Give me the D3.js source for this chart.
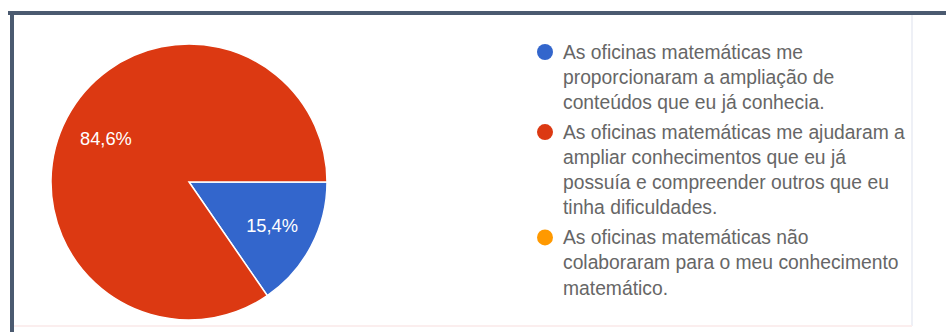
<!DOCTYPE html>
<html>
<head>
<meta charset="utf-8">
<script src="https://cdn.jsdelivr.net/npm/d3@7"></script>
<style>
  html, body { margin: 0; padding: 0; background: #ffffff; }
  svg { display: block; }
  text { font-family: "Liberation Sans", Arial, sans-serif; }
</style>
</head>
<body>
<svg id="chart" width="946" height="332"></svg>
<script>
// ---- data ----
const categories = [
  "As oficinas matemáticas me\nproporcionaram a ampliação de\nconteúdos que eu já conhecia.",
  "As oficinas matemáticas me ajudaram a\nampliar conhecimentos que eu já\npossuía e compreender outros que eu\ntinha dificuldades.",
  "As oficinas matemáticas não\ncolaboraram para o meu conhecimento\nmatemático."
];
const values = [15.4, 84.6, 0];
const colors = ["#3366cc", "#dc3912", "#ff9900"];
const valueLabels = ["15,4%", "84,6%", ""];

// ---- layout ----
const W = 946, H = 332;
const svg = d3.select("#chart");

// frame lines
svg.append("line").attr("x1", 912).attr("x2", 912).attr("y1", 14).attr("y2", 326)
  .attr("stroke", "#eef0f6").attr("stroke-width", 2);
svg.append("line").attr("x1", 12).attr("x2", 912).attr("y1", 326).attr("y2", 326)
  .attr("stroke", "#fbeeee").attr("stroke-width", 2);
svg.append("line").attr("x1", 8).attr("x2", W).attr("y1", 13).attr("y2", 13)
  .attr("stroke", "#4b5a70").attr("stroke-width", 4);
svg.append("line").attr("x1", 12).attr("x2", 12).attr("y1", 11).attr("y2", H)
  .attr("stroke", "#4b5a70").attr("stroke-width", 4);

// pie
const cx = 189, cy = 182, r = 138;
const pie = d3.pie().sort(null).value(d => d)
  .startAngle(Math.PI / 2).endAngle(Math.PI / 2 + 2 * Math.PI);
const arcs = pie(values);
const arc = d3.arc().innerRadius(0).outerRadius(r);
const labelArc = d3.arc().innerRadius(r * 0.68).outerRadius(r * 0.68);

const g = svg.append("g").attr("transform", `translate(${cx},${cy})`);
g.selectAll("path.slice").data(arcs).enter().append("path")
  .attr("class", "slice")
  .attr("d", arc)
  .attr("fill", (d, i) => colors[i])
  .attr("stroke", "#ffffff")
  .attr("stroke-width", d => d.value > 0 ? 1.5 : 0);

g.selectAll("text.lbl").data(arcs).enter().append("text")
  .attr("class", "lbl")
  .attr("transform", d => `translate(${labelArc.centroid(d)})`)
  .attr("text-anchor", "middle")
  .attr("dy", "0.35em")
  .attr("fill", "#ffffff")
  .attr("font-size", 18.3)
  .text((d, i) => d.value > 0 ? valueLabels[i] : "");

// legend
const legendX = 545, textX = 563;
const lineH = 25.2, groupGap = 4.5;
let y = 52;
const legend = svg.append("g");
categories.forEach((cat, i) => {
  const lines = cat.split("\n");
  legend.append("circle").attr("cx", legendX).attr("cy", y).attr("r", 8)
    .attr("fill", colors[i]);
  const t = legend.append("text").attr("x", textX).attr("y", y)
    .attr("fill", "#666666").attr("font-size", 19.3);
  lines.forEach((ln, j) => {
    t.append("tspan").attr("x", textX).attr("y", y + j * lineH)
      .attr("dy", "0.35em").text(ln);
  });
  y += lines.length * lineH + groupGap;
});
</script>
</body>
</html>
